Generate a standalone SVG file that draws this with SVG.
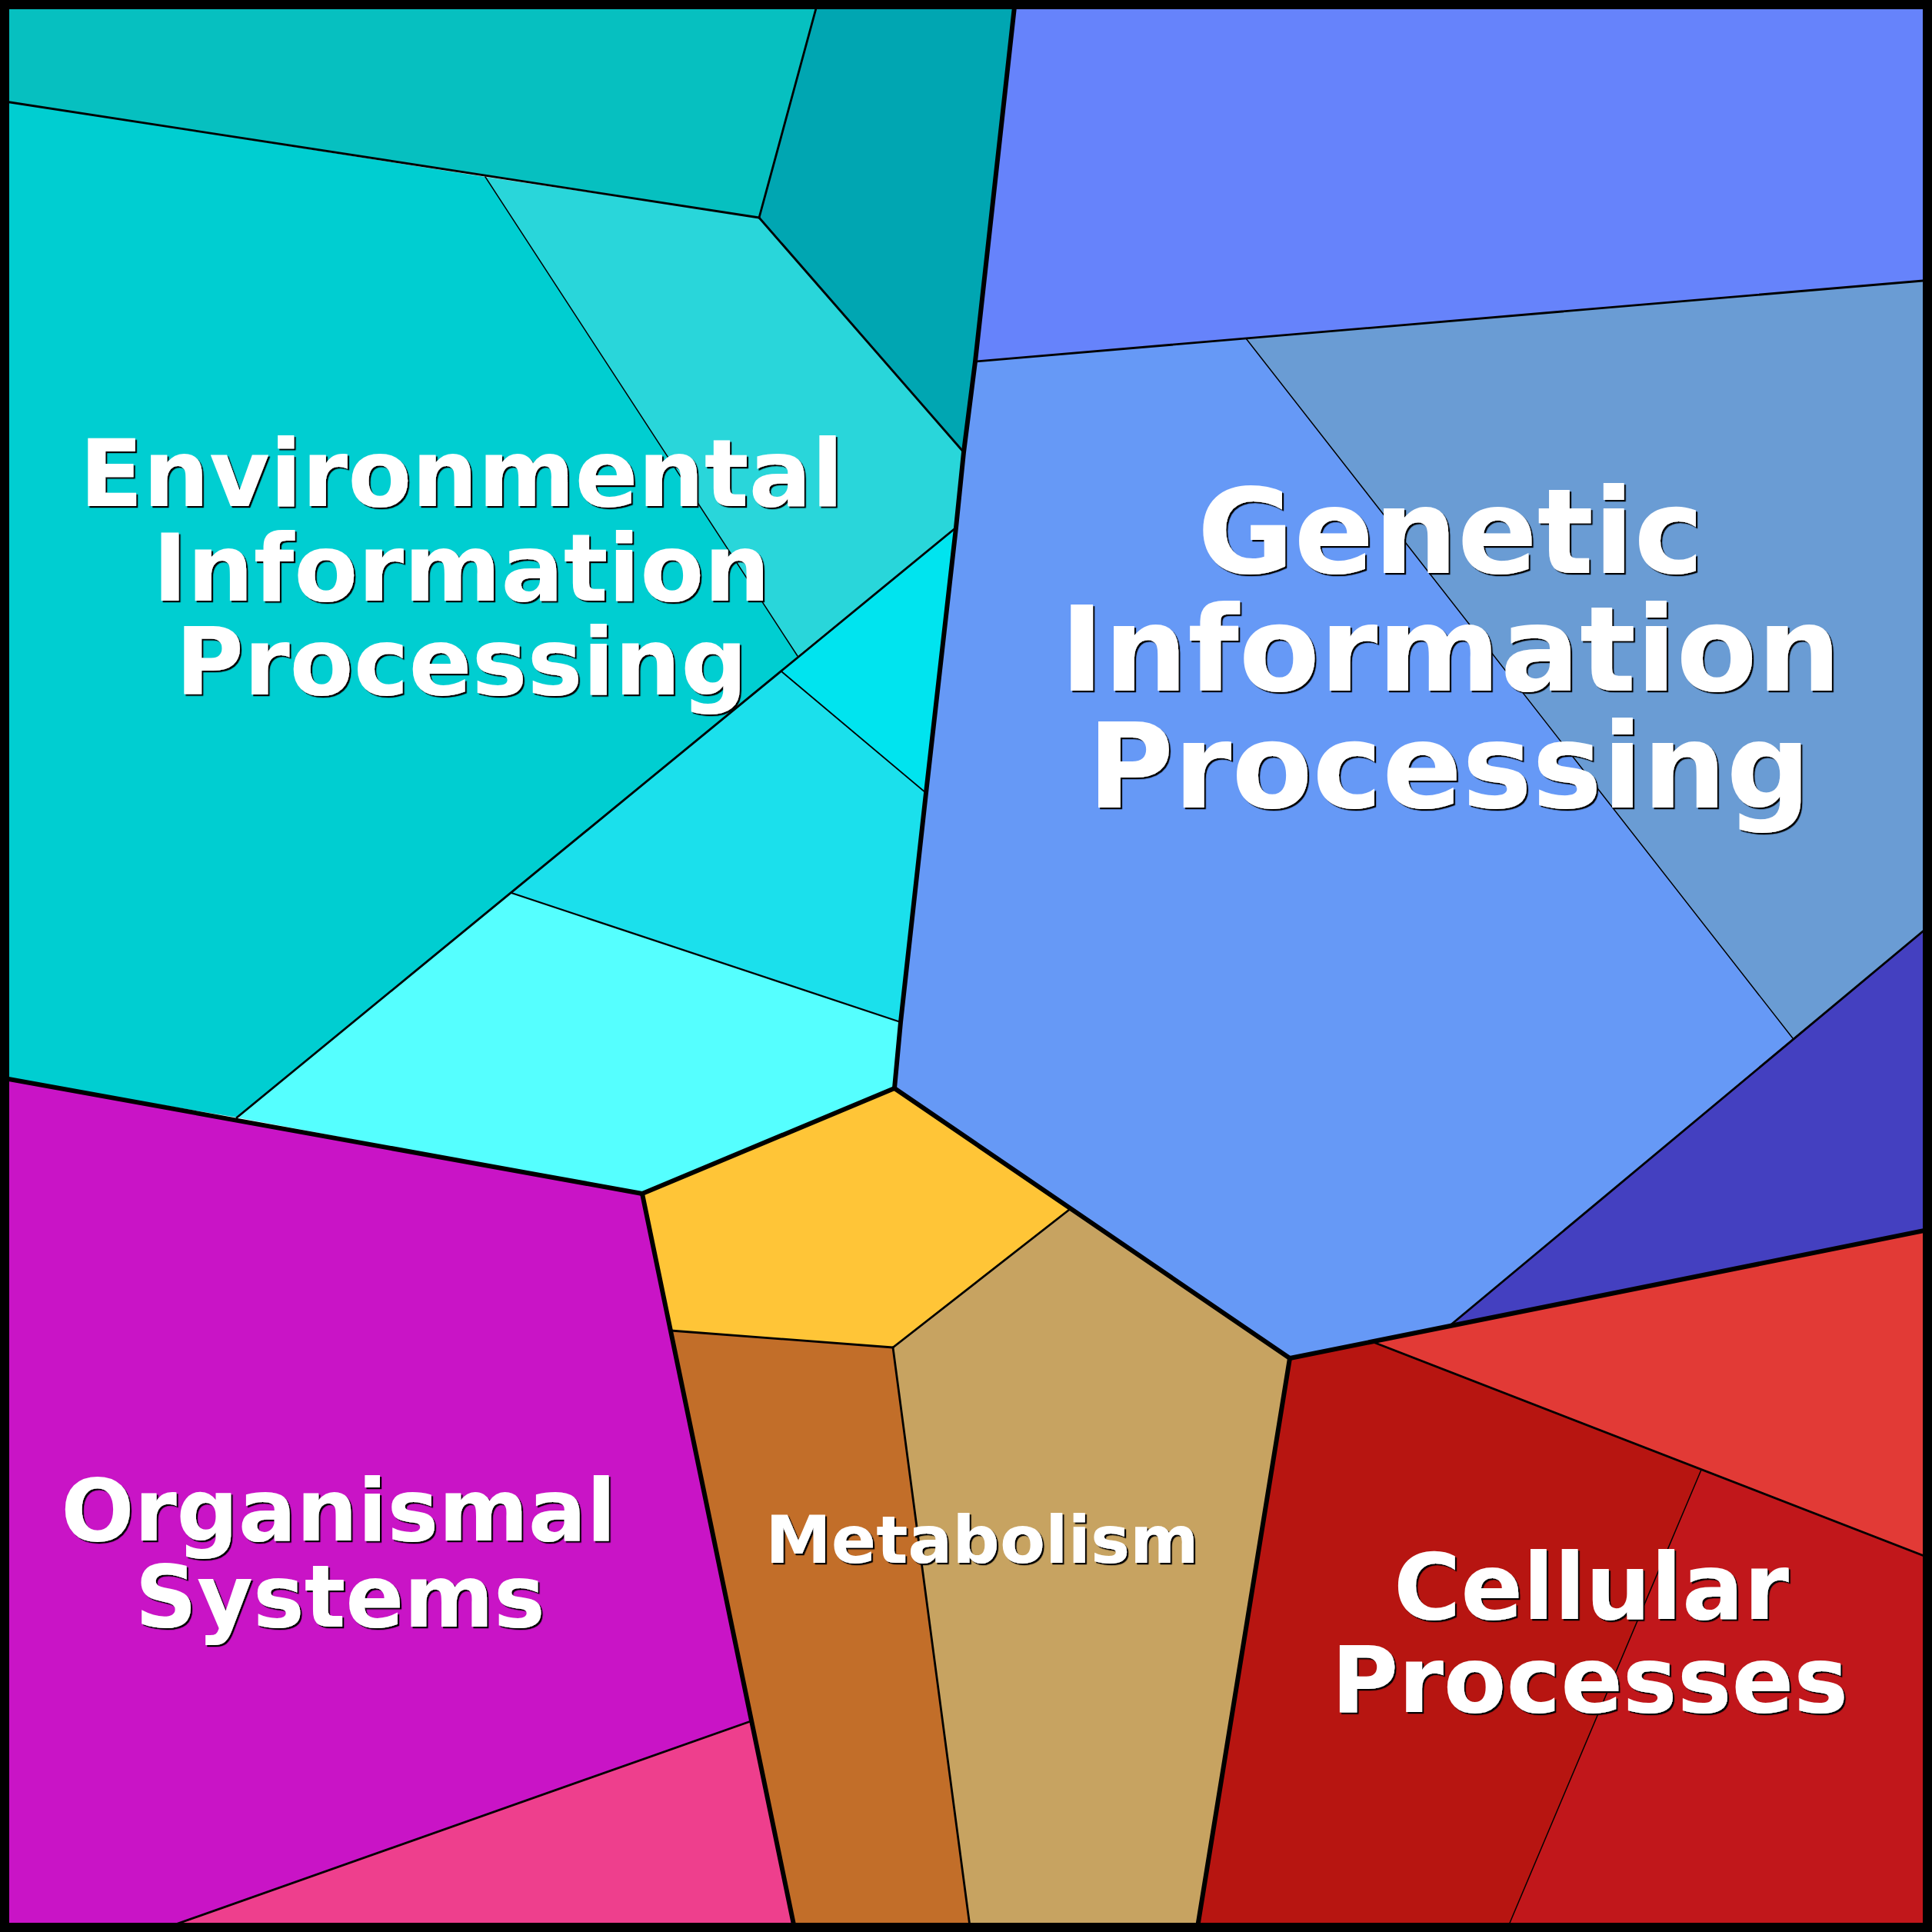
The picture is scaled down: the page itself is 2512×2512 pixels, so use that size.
<svg xmlns="http://www.w3.org/2000/svg" width="2512" height="2512" viewBox="0 0 2512 2512">
<defs>
  <filter id="shadow" x="-5%" y="-20%" width="110%" height="140%">
    <feDropShadow dx="2.2" dy="2.2" stdDeviation="0.4" flood-color="#000000" flood-opacity="1"/>
  </filter>
</defs>
<style>
  .cell { stroke: none; }
  .thick { fill: none; stroke: #000; stroke-width: 6; stroke-linecap: round; stroke-linejoin: round; }
  .med { fill: none; stroke: #000; stroke-width: 2.8; stroke-linecap: round; }
  .thin { fill: none; stroke: #000; stroke-width: 1.5; stroke-linecap: round; }
  .lbl { font-family: "DejaVu Sans", "Liberation Sans", sans-serif; font-weight: bold; text-anchor: middle; fill: #ffffff; filter: url(#shadow); }
</style>
<rect x="0" y="0" width="2512" height="2512" fill="#ffffff"/>

<g id="environmental-information-processing">
  <polygon class="cell" fill="#06C0C0" points="0,0 1064,0 987,283 0,131"/>
  <polygon class="cell" fill="#00A6B2" points="1064,0 1320,0 1268,470 1253,588 987,283"/>
  <polygon class="cell" fill="#29D6DA" points="631,230 987,283 1253,588 1243,686 1037,853"/>
  <polygon class="cell" fill="#00CED1" points="0,131 631,230 1037,853 1016,873 665,1161 308,1453 0,1401"/>
  <polygon class="cell" fill="#00E4EF" points="1243,686 1204,1031 1016,873 1037,853"/>
  <polygon class="cell" fill="#1BE0EC" points="1016,873 1204,1031 1171,1329 665,1161"/>
  <polygon class="cell" fill="#55FFFF" points="665,1161 1171,1329 1163,1415 835,1552 308,1453"/>
</g>

<g id="genetic-information-processing">
  <polygon class="cell" fill="#6683FB" points="1320,0 2512,0 2512,364 1620,440 1268,470"/>
  <polygon class="cell" fill="#6A9CD4" points="1620,440 2512,364 2512,1201 2331,1350"/>
  <polygon class="cell" fill="#6699F6" points="1268,470 1620,440 2331,1350 1887,1722 1677,1766 1390,1573 1163,1415 1171,1329 1204,1031 1243,686 1253,588"/>
  <polygon class="cell" fill="#4440C0" points="2331,1350 2512,1201 2512,1598 1887,1722"/>
</g>

<g id="cellular-processes">
  <polygon class="cell" fill="#E23A36" points="1788,1746 2512,1598 2512,2027 2212,1911"/>
  <polygon class="cell" fill="#B71511" points="1677,1766 1788,1746 2212,1911 1958,2512 1556,2512"/>
  <polygon class="cell" fill="#C1171B" points="2212,1911 2512,2027 2512,2512 1958,2512"/>
</g>

<g id="metabolism">
  <polygon class="cell" fill="#FFC537" points="835,1552 1163,1415 1390,1573 1161,1752 872,1730"/>
  <polygon class="cell" fill="#C26E29" points="872,1730 1161,1752 1262,2512 1034,2512"/>
  <polygon class="cell" fill="#C7A361" points="1390,1573 1677,1766 1556,2512 1262,2512 1161,1752"/>
</g>

<g id="organismal-systems">
  <polygon class="cell" fill="#C914C6" points="0,1401 835,1552 976,2238 200,2512 0,2512"/>
  <polygon class="cell" fill="#EE3F8D" points="976,2238 1034,2512 200,2512"/>
</g>

<g id="connectors">
  <line class="thin" x1="631" y1="230" x2="1037" y2="853"/>
  <line class="thin" x1="1016" y1="873" x2="1204" y2="1031" style="stroke-width:1.8"/>
  <line class="thin" x1="1620" y1="440" x2="2331" y2="1350"/>
  <line class="thin" x1="2212" y1="1911" x2="1958" y2="2512"/>

  <line class="med" x1="0" y1="131" x2="987" y2="283"/>
  <line class="med" x1="1064" y1="0" x2="987" y2="283"/>
  <line class="med" x1="987" y1="283" x2="1253" y2="588"/>
  <line class="med" x1="1243" y1="686" x2="308" y2="1453"/>
  <line class="med" x1="665" y1="1161" x2="1171" y2="1329" style="stroke-width:2.3"/>
  <line class="med" x1="1268" y1="470" x2="2512" y2="364"/>
  <line class="med" x1="2512" y1="1201" x2="1887" y2="1722"/>
  <line class="med" x1="1788" y1="1746" x2="2512" y2="2027"/>
  <line class="med" x1="976" y1="2238" x2="200" y2="2512"/>
  <line class="med" x1="1390" y1="1573" x2="1161" y2="1752"/>
  <line class="med" x1="872" y1="1730" x2="1161" y2="1752"/>
  <line class="med" x1="1161" y1="1752" x2="1262" y2="2512"/>

  <polyline class="thick" points="1320,0 1268,470 1253,588 1243,686 1204,1031 1171,1329 1163,1415"/>
  <line class="thick" x1="0" y1="1401" x2="835" y2="1552"/>
  <line class="thick" x1="835" y1="1552" x2="1163" y2="1415"/>
  <line class="thick" x1="1163" y1="1415" x2="1677" y2="1766"/>
  <line class="thick" x1="1677" y1="1766" x2="1556" y2="2512"/>
  <line class="thick" x1="1677" y1="1766" x2="2512" y2="1598"/>
  <line class="thick" x1="835" y1="1552" x2="1034" y2="2512"/>

  <rect x="6" y="6" width="2500" height="2500" fill="none" stroke="#000" stroke-width="12"/>
</g>

<g id="labels">
  <text class="lbl" font-size="121" x="600" y="658">Environmental</text>
  <text class="lbl" font-size="121" x="600" y="781">Information</text>
  <text class="lbl" font-size="121" x="600" y="903">Processing</text>

  <text class="lbl" font-size="153" x="1886" y="745">Genetic</text>
  <text class="lbl" font-size="153" x="1886" y="898">Information</text>
  <text class="lbl" font-size="153" x="1884" y="1050">Processing</text>

  <text class="lbl" font-size="112" x="440" y="2003">Organismal</text>
  <text class="lbl" font-size="112" x="442" y="2115">Systems</text>

  <text class="lbl" font-size="86" x="1277" y="2032">Metabolism</text>

  <text class="lbl" font-size="119" x="2069" y="2105">Cellular</text>
  <text class="lbl" font-size="119" x="2067" y="2226">Processes</text>
</g>
</svg>
